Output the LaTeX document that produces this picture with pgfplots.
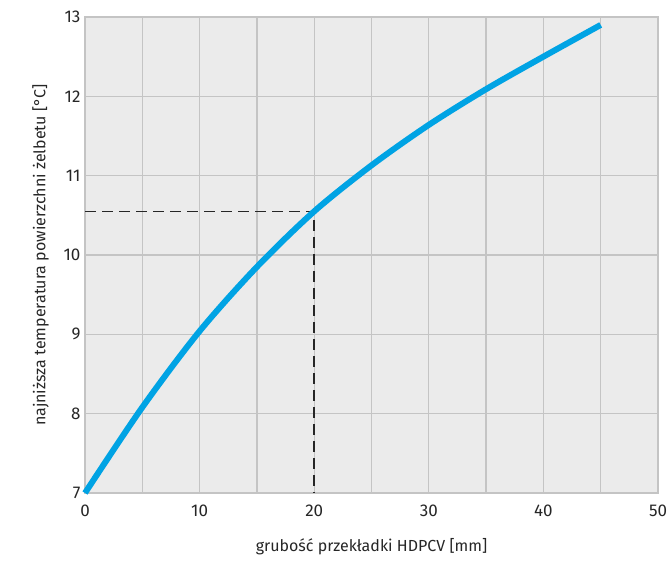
\documentclass[border=0pt]{standalone}
\usepackage{pgfplots}
\pgfplotsset{compat=1.18}
\usepackage{fontspec}
\setmainfont{Fira Sans}
\definecolor{bg}{HTML}{EBEBEB}
\definecolor{gridc}{HTML}{C4C4C4}
\definecolor{curve}{HTML}{00A3E4}
\begin{document}
\begin{tikzpicture}
\begin{axis}[
  scale only axis,
  width=573pt, height=476pt,
  xmin=0, xmax=50, ymin=7, ymax=13,
  axis background/.style={fill=bg},
  axis line style={gridc, line width=1.3pt},
  xtick={0,10,...,50},
  minor xtick={5,15,...,45},
  ytick={7,...,13},
  grid=both,
  major grid style={gridc, line width=1.3pt},
  minor grid style={gridc, line width=1.3pt},
  tick style={draw=none},
  /pgf/number format/assume math mode=true,
  ticklabel style={font=\fontsize{17}{19}\selectfont, text=black!85},
  xticklabel style={yshift=-8pt},
  yticklabel style={xshift=-1pt},
  xlabel={grubość przekładki HDPCV [mm]},
  ylabel={najniższa temperatura powierzchni żelbetu [°C]},
  label style={font=\fontsize{16}{18}\selectfont, text=black!85},
  xlabel style={yshift=-15pt},
  ylabel style={yshift=8pt},
  clip=false,
]
\addplot[black!85, line width=1.5pt, dash pattern=on 11pt off 6pt] coordinates {(0,10.55) (20,10.55) (20,7)};
\addplot[curve, line width=6pt, smooth] coordinates {
(0,7) (5,8.08) (10,9.04) (15,9.85) (20,10.55) (25,11.13) (30,11.64) (35,12.09) (40,12.5) (45,12.9)};
\end{axis}
\path (current axis.south west) ++(-85pt,-69pt) coordinate (bl);
\path (current axis.north east) ++(13pt,17pt) coordinate (tr);
\path (bl) rectangle (tr);
\end{tikzpicture}
\end{document}
